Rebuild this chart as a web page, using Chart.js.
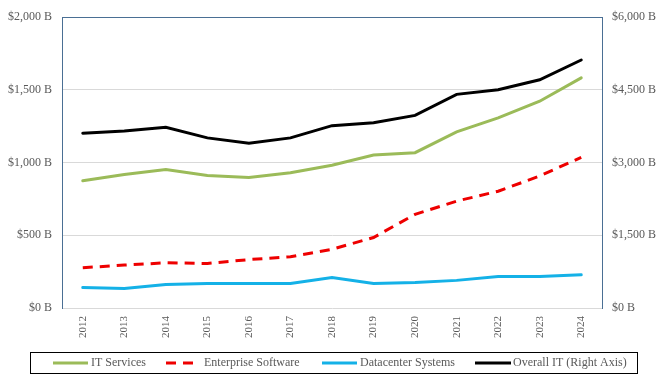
<!DOCTYPE html>
<html><head><meta charset="utf-8">
<script src="https://cdn.jsdelivr.net/npm/chart.js@4.4.1/dist/chart.umd.min.js"></script>
<style>html,body{margin:0;padding:0;background:#fff;}#wrap{width:665px;height:380px;}</style>
</head><body><div id="wrap"><canvas id="c" width="665" height="380"></canvas></div>
<script>
const years = ['2012','2013','2014','2015','2016','2017','2018','2019','2020','2021','2022','2023','2024'];
const itServices = [875, 918, 952, 912, 898, 930, 982, 1052, 1068, 1211, 1308, 1422, 1583];
const enterpriseSoftware = [277, 295, 311, 306, 333, 352, 404, 485, 644, 735, 803, 908, 1036];
const datacenterSystems = [141, 134, 161, 168, 168, 168, 209, 168, 175, 190, 216, 216, 229];
const overallIT = [3606, 3653, 3729, 3510, 3402, 3510, 3762, 3823, 3974, 4408, 4504, 4708, 5117];
const leftTicks = [0, 500, 1000, 1500, 2000];
const rightTicks = [0, 1500, 3000, 4500, 6000];

const FONT = "'Liberation Serif', 'Times New Roman', serif";
const TXT = '#595959';
const BORDER = '#4a6f94';
const fmt = v => '$' + v.toLocaleString('en-US') + ' B';

const legendPlugin = {
  id: 'customLegend',
  afterDraw(chart) {
    const ctx = chart.ctx;
    const ca = chart.chartArea;
    ctx.save();
    // top border of plot area
    ctx.strokeStyle = BORDER; ctx.lineWidth = 1;
    ctx.beginPath();
    ctx.moveTo(ca.left, Math.round(ca.top) + 0.5);
    ctx.lineTo(ca.right, Math.round(ca.top) + 0.5);
    ctx.stroke();
    // legend box
    ctx.strokeStyle = '#000'; ctx.lineWidth = 1;
    ctx.strokeRect(30.5, 352.5, 607, 21);
    const items = [
      {sx: 53, ex: 88, tx: 91},
      {sx: 166, ex: 197, tx: 204},
      {sx: 322, ex: 357, tx: 360},
      {sx: 475, ex: 511, tx: 513}
    ];
    const yMid = 363;
    ctx.font = '12px ' + FONT;
    ctx.textBaseline = 'middle';
    ctx.textAlign = 'left';
    chart.data.datasets.forEach((ds, i) => {
      const it = items[i];
      ctx.strokeStyle = ds.borderColor;
      ctx.lineWidth = 3;
      ctx.setLineDash(ds.borderDash || []);
      ctx.lineCap = 'butt';
      ctx.beginPath();
      ctx.moveTo(it.sx, yMid); ctx.lineTo(it.ex, yMid);
      ctx.stroke();
      ctx.setLineDash([]);
      ctx.fillStyle = TXT;
      ctx.fillText(ds.label, it.tx, yMid);
    });
    ctx.restore();
  }
};

new Chart(document.getElementById('c'), {
  type: 'line',
  data: {
    labels: years,
    datasets: [
      {label: 'IT Services', data: itServices, borderColor: '#9bbb59', yAxisID: 'y', borderWidth: 3, borderCapStyle: 'round'},
      {label: 'Enterprise Software', data: enterpriseSoftware, borderColor: '#ee0000', borderDash: [10, 7], yAxisID: 'y', borderWidth: 3},
      {label: 'Datacenter Systems', data: datacenterSystems, borderColor: '#14b1e7', yAxisID: 'y', borderWidth: 3, borderCapStyle: 'round'},
      {label: 'Overall IT (Right Axis)', data: overallIT, borderColor: '#000000', yAxisID: 'y2', borderWidth: 3, borderCapStyle: 'round'}
    ]
  },
  options: {
    responsive: false,
    animation: false,
    devicePixelRatio: 1,
    layout: {padding: {top: 14, left: 0, right: 0, bottom: 0}},
    elements: {point: {radius: 0}, line: {tension: 0}},
    plugins: {legend: {display: false}, tooltip: {enabled: false}},
    scales: {
      x: {
        type: 'category',
        offset: true,
        grid: {display: false, drawTicks: false},
        border: {display: false},
        ticks: {color: TXT, font: {family: FONT, size: 11}, minRotation: 90, maxRotation: 90, padding: 8, autoSkip: false},
        afterFit: s => { s.height = 72; }
      },
      y: {
        position: 'left',
        min: 0, max: 2000,
        afterBuildTicks: s => { s.ticks = leftTicks.map(v => ({value: v})); },
        grid: {color: '#d9d9d9', lineWidth: 1, drawTicks: false},
        border: {display: true, color: BORDER, width: 1},
        ticks: {color: TXT, font: {family: FONT, size: 12}, padding: 10, callback: v => fmt(v)},
        afterFit: s => { s.width = 62; }
      },
      y2: {
        position: 'right',
        min: 0, max: 6000,
        afterBuildTicks: s => { s.ticks = rightTicks.map(v => ({value: v})); },
        grid: {display: false, drawTicks: false},
        border: {display: true, color: BORDER, width: 1},
        ticks: {color: TXT, font: {family: FONT, size: 12}, padding: 10, callback: v => fmt(v)},
        afterFit: s => { s.width = 63; }
      }
    }
  },
  plugins: [legendPlugin]
});
</script>
</body></html>
